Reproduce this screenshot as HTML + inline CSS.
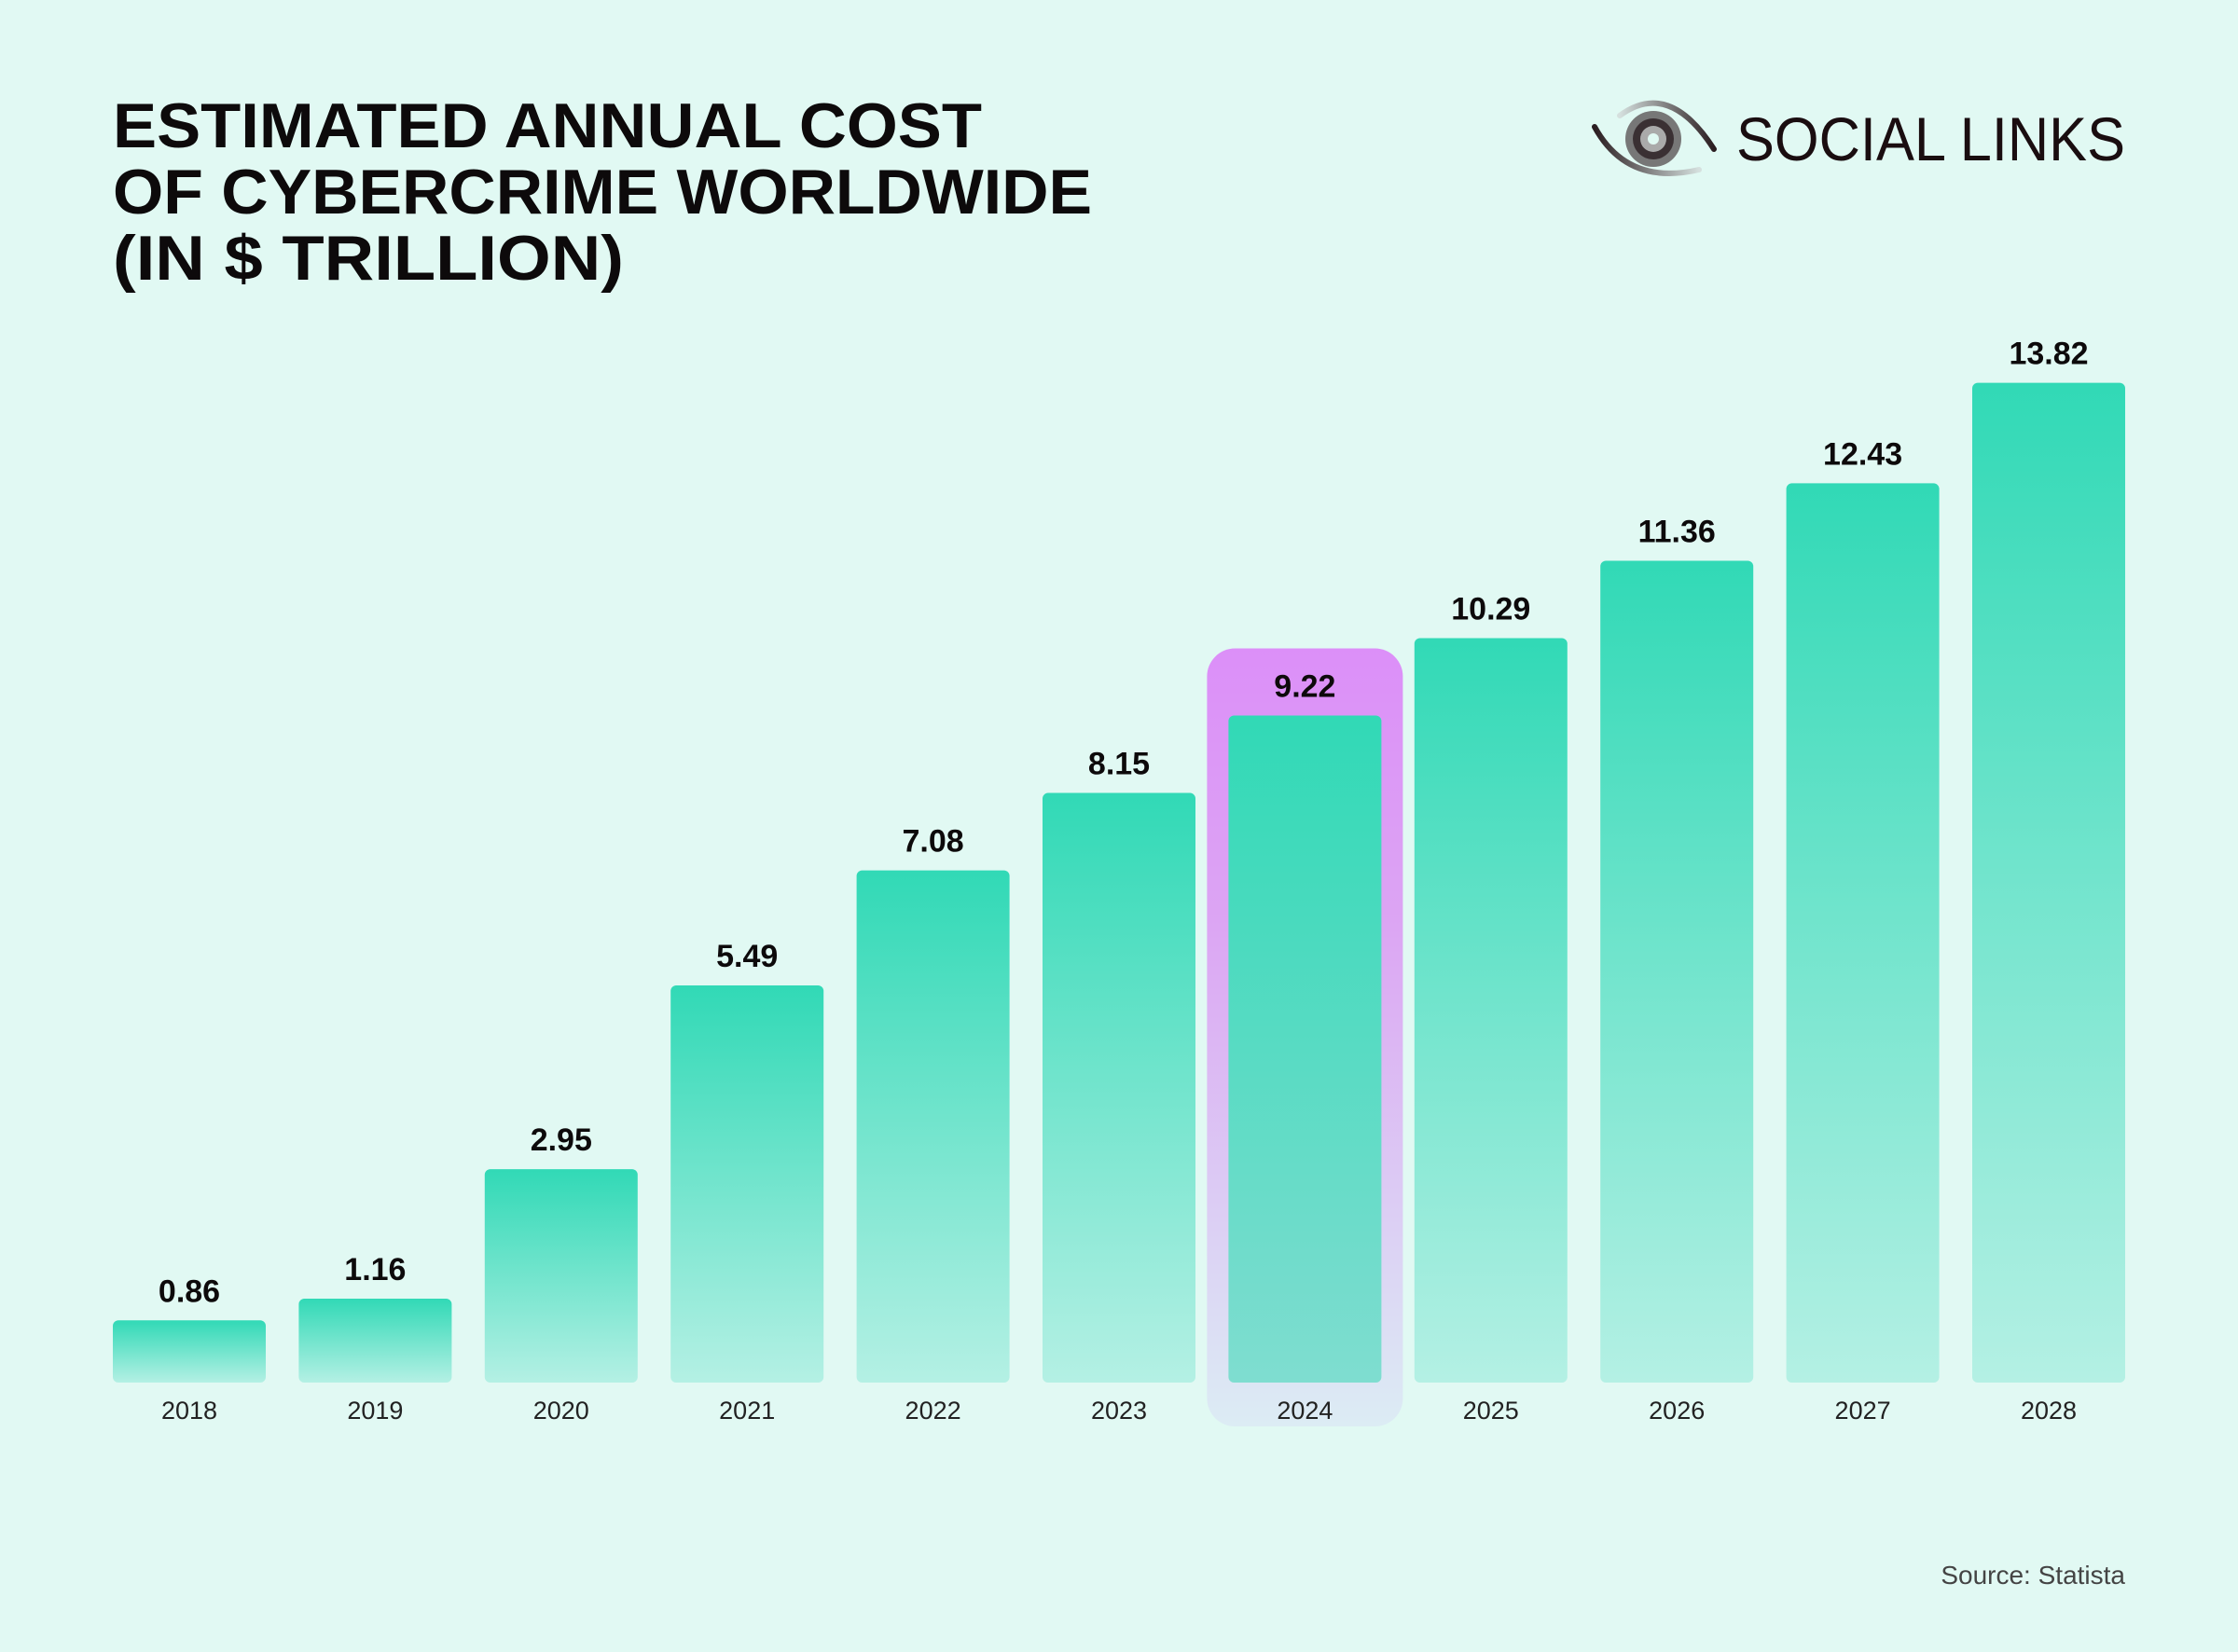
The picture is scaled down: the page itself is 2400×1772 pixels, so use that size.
<!DOCTYPE html>
<html><head><meta charset="utf-8"><style>
html,body{margin:0;padding:0;background:#e1f9f3;}
svg{display:block;font-family:"Liberation Sans",sans-serif;}
</style></head><body>
<svg id="chart" width="2400" height="1772" viewBox="0 0 2400 1772" xmlns="http://www.w3.org/2000/svg">
<defs>
<linearGradient id="barGrad" x1="0" y1="0" x2="0" y2="1">
<stop offset="0" stop-color="#31d9b6"/><stop offset="1" stop-color="#b4f0e4"/>
</linearGradient>
<linearGradient id="hlGrad" x1="0" y1="0" x2="0" y2="1">
<stop offset="0" stop-color="#dc8ff8"/><stop offset="0.35" stop-color="#dca5f3"/><stop offset="1" stop-color="#dcecf4"/>
</linearGradient>
<linearGradient id="hlBar" x1="0" y1="0" x2="0" y2="1">
<stop offset="0" stop-color="#31d9b6"/><stop offset="1" stop-color="#7fddd0"/>
</linearGradient>
<linearGradient id="arcUp" x1="0" y1="0" x2="1" y2="0">
<stop offset="0" stop-color="#d5e0de"/><stop offset="1" stop-color="#2a1d20"/>
</linearGradient>
<linearGradient id="arcDown" x1="0" y1="0" x2="1" y2="0">
<stop offset="0" stop-color="#2a1d20"/><stop offset="1" stop-color="#d5e0de"/>
</linearGradient>
</defs>
<rect width="2400" height="1772" fill="#e1f9f3"/>
<g font-weight="bold" font-size="68" fill="#0d0a0b">
<text x="121" y="158" textLength="932" lengthAdjust="spacingAndGlyphs">ESTIMATED ANNUAL COST</text>
<text x="121" y="229" textLength="1050" lengthAdjust="spacingAndGlyphs">OF CYBERCRIME WORLDWIDE</text>
<text x="121" y="300" textLength="548" lengthAdjust="spacingAndGlyphs">(IN $ TRILLION)</text>
</g>
<g>
<path d="M1737 124 Q1790 85 1838 160" stroke="url(#arcUp)" stroke-width="6" fill="none" stroke-linecap="round"/>
<path d="M1710 136 Q1745 200 1822 182" stroke="url(#arcDown)" stroke-width="6" fill="none" stroke-linecap="round"/>
<circle cx="1773" cy="149" r="30" fill="#777"/>
<circle cx="1773" cy="149" r="22" fill="#3a3033"/>
<circle cx="1773" cy="149" r="14" fill="#aaa"/>
<circle cx="1773" cy="149" r="6" fill="#e1f9f3"/>
<text x="1862" y="172" font-size="66" fill="#1a0d10" textLength="417" lengthAdjust="spacingAndGlyphs">SOCIAL LINKS</text>
</g>
<g id="bars"></g>
<text x="2279" y="1699" font-size="28" fill="#444" text-anchor="end">Source: Statista</text>
<script>
const years = ["2018","2019","2020","2021","2022","2023","2024","2025","2026","2027","2028"];
const values = [0.86,1.16,2.95,5.49,7.08,8.15,9.22,10.29,11.36,12.43,13.82];
const valueLabels = ["0.86","1.16","2.95","5.49","7.08","8.15","9.22","10.29","11.36","12.43","13.82"];
const highlightYear = "2024";
const NS="http://www.w3.org/2000/svg";
const g=document.getElementById('bars');
const x0=121, pitch=199.4, bw=164, base=1483, unit=77.6;
const xs=i=>x0+i*pitch;
const ys=v=>base-v*unit;
function mk(t,a){const e=document.createElementNS(NS,t);for(const k in a)e.setAttribute(k,a[k]);return e;}
years.forEach((yr,i)=>{
  const v=values[i], x=xs(i), y=ys(v), hl=yr===highlightYear;
  if(hl){
    const h=mk('rect',{x:x-23,y:y-72,width:bw+46,height:base+47-(y-72),rx:30,fill:'url(#hlGrad)'});
    
    
    g.appendChild(h);
  }
  const r=mk('rect',{x:x,y:y,width:bw,height:base-y,rx:6,fill:hl?'url(#hlBar)':'url(#barGrad)'});
  
  
  g.appendChild(r);
  const t=mk('text',{x:x+bw/2,y:y-20,'text-anchor':'middle','font-size':34,'font-weight':'bold',fill:'#0d0a0b'});
  t.textContent=valueLabels[i];
  
  
  g.appendChild(t);
  const l=mk('text',{x:x+bw/2,y:1522,'text-anchor':'middle','font-size':27,fill:'#222'});
  l.textContent=yr;
  
  
  g.appendChild(l);
});
</script>
</svg>
</body></html>
